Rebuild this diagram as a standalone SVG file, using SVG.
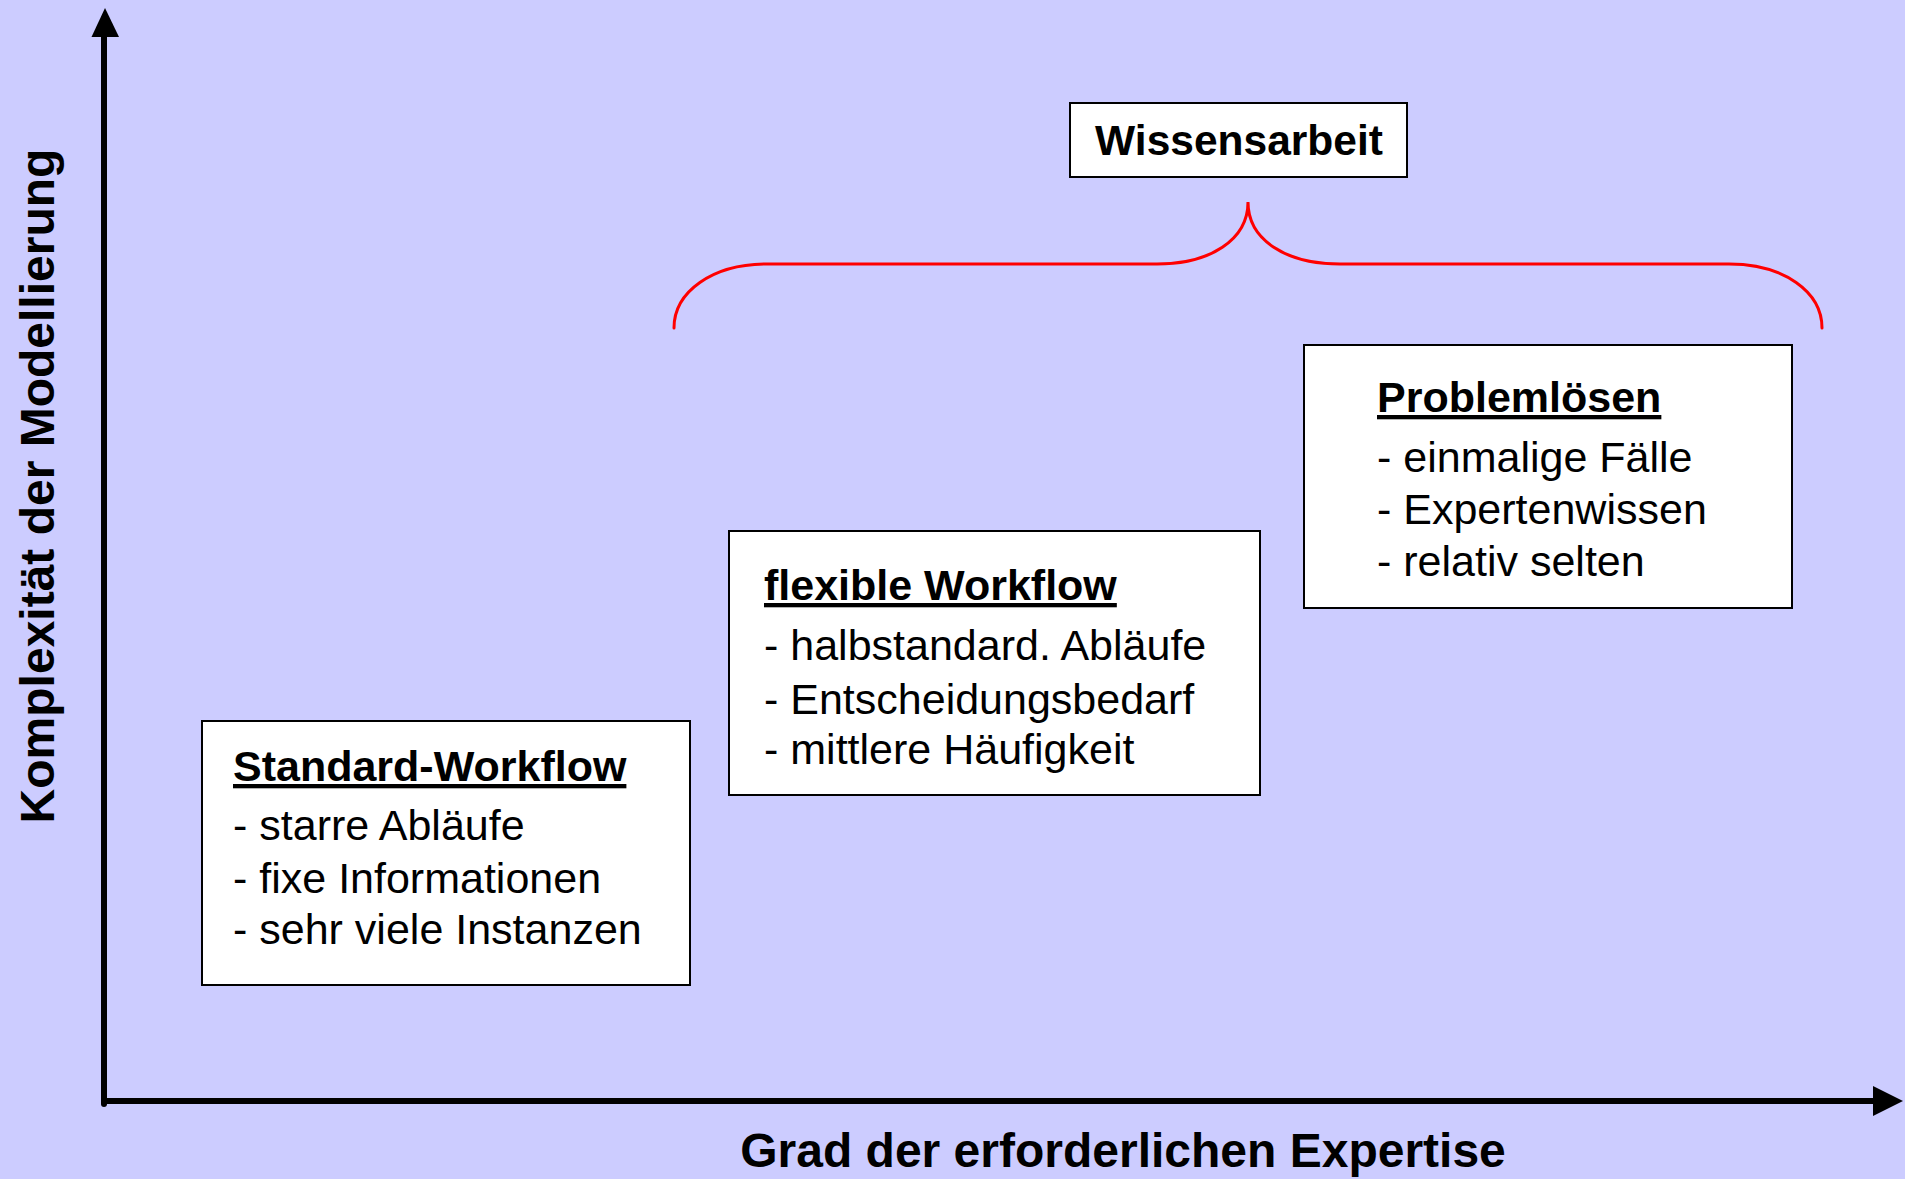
<svg xmlns="http://www.w3.org/2000/svg" width="1905" height="1179" viewBox="0 0 1905 1179">
  <style>
    .box { fill: #FFFFFF; stroke: #000000; stroke-width: 2; }
    .title { font-family: "Liberation Sans", Arial, sans-serif; font-weight: bold; font-size: 43px; fill: #000000; text-decoration: underline; }
    .item { font-family: "Liberation Sans", Arial, sans-serif; font-size: 43px; fill: #000000; }
    .heading { font-family: "Liberation Sans", Arial, sans-serif; font-weight: bold; font-size: 42.5px; fill: #000000; }
    .axis-label { font-family: "Liberation Sans", Arial, sans-serif; font-weight: bold; font-size: 48px; fill: #000000; }
    .axis { stroke: #000000; stroke-width: 6; fill: none; }
    .brace { stroke: #FF0000; stroke-width: 3; fill: none; stroke-linecap: round; }
  </style>

  <!-- background -->
  <rect x="0" y="0" width="1905" height="1179" fill="#CCCCFF"/>

  <g id="connectors">
    <!-- vertical axis -->
    <line class="axis" x1="104" y1="1104" x2="104" y2="34" stroke-linecap="round"/>
    <polygon points="105,8 91.5,37 119,37" fill="#000000"/>
    <!-- horizontal axis -->
    <line class="axis" x1="104" y1="1101" x2="1876" y2="1101" stroke-width="5.5"/>
    <polygon points="1903,1101 1873,1086 1873,1116" fill="#000000"/>
    <!-- curly brace grouping the upper two categories -->
    <path class="brace" d="M674,328 C674,292 712,264 767,264 L1157,264 C1210,264 1248,240 1248,202 C1248,240 1286,264 1340,264 L1729,264 C1784,264 1822,292 1822,328"/>
  </g>

  <g id="axis-x-label">
    <text class="axis-label" x="1123" y="1167" text-anchor="middle">Grad der erforderlichen Expertise</text>
  </g>

  <g id="axis-y-label">
    <text class="axis-label" x="0" y="0" text-anchor="middle" transform="translate(54,486) rotate(-90)">Komplexität der Modellierung</text>
  </g>

  <g id="wissensarbeit">
    <rect class="box" x="1070" y="103" width="337" height="74"/>
    <text class="heading" x="1239" y="155" text-anchor="middle">Wissensarbeit</text>
  </g>

  <g id="standard-workflow">
    <rect class="box" x="202" y="721" width="488" height="264"/>
    <text class="title" x="233" y="781">Standard-Workflow</text>
    <text class="item" x="233" y="840">- starre Abläufe</text>
    <text class="item" x="233" y="893">- fixe Informationen</text>
    <text class="item" x="233" y="944">- sehr viele Instanzen</text>
  </g>

  <g id="flexible-workflow">
    <rect class="box" x="729" y="531" width="531" height="264"/>
    <text class="title" x="764" y="600">flexible Workflow</text>
    <text class="item" x="764" y="660">- halbstandard. Abläufe</text>
    <text class="item" x="764" y="714">- Entscheidungsbedarf</text>
    <text class="item" x="764" y="764">- mittlere Häufigkeit</text>
  </g>

  <g id="problemloesen">
    <rect class="box" x="1304" y="345" width="488" height="263"/>
    <text class="title" x="1377" y="412">Problemlösen</text>
    <text class="item" x="1377" y="472">- einmalige Fälle</text>
    <text class="item" x="1377" y="524">- Expertenwissen</text>
    <text class="item" x="1377" y="576">- relativ selten</text>
  </g>
</svg>
